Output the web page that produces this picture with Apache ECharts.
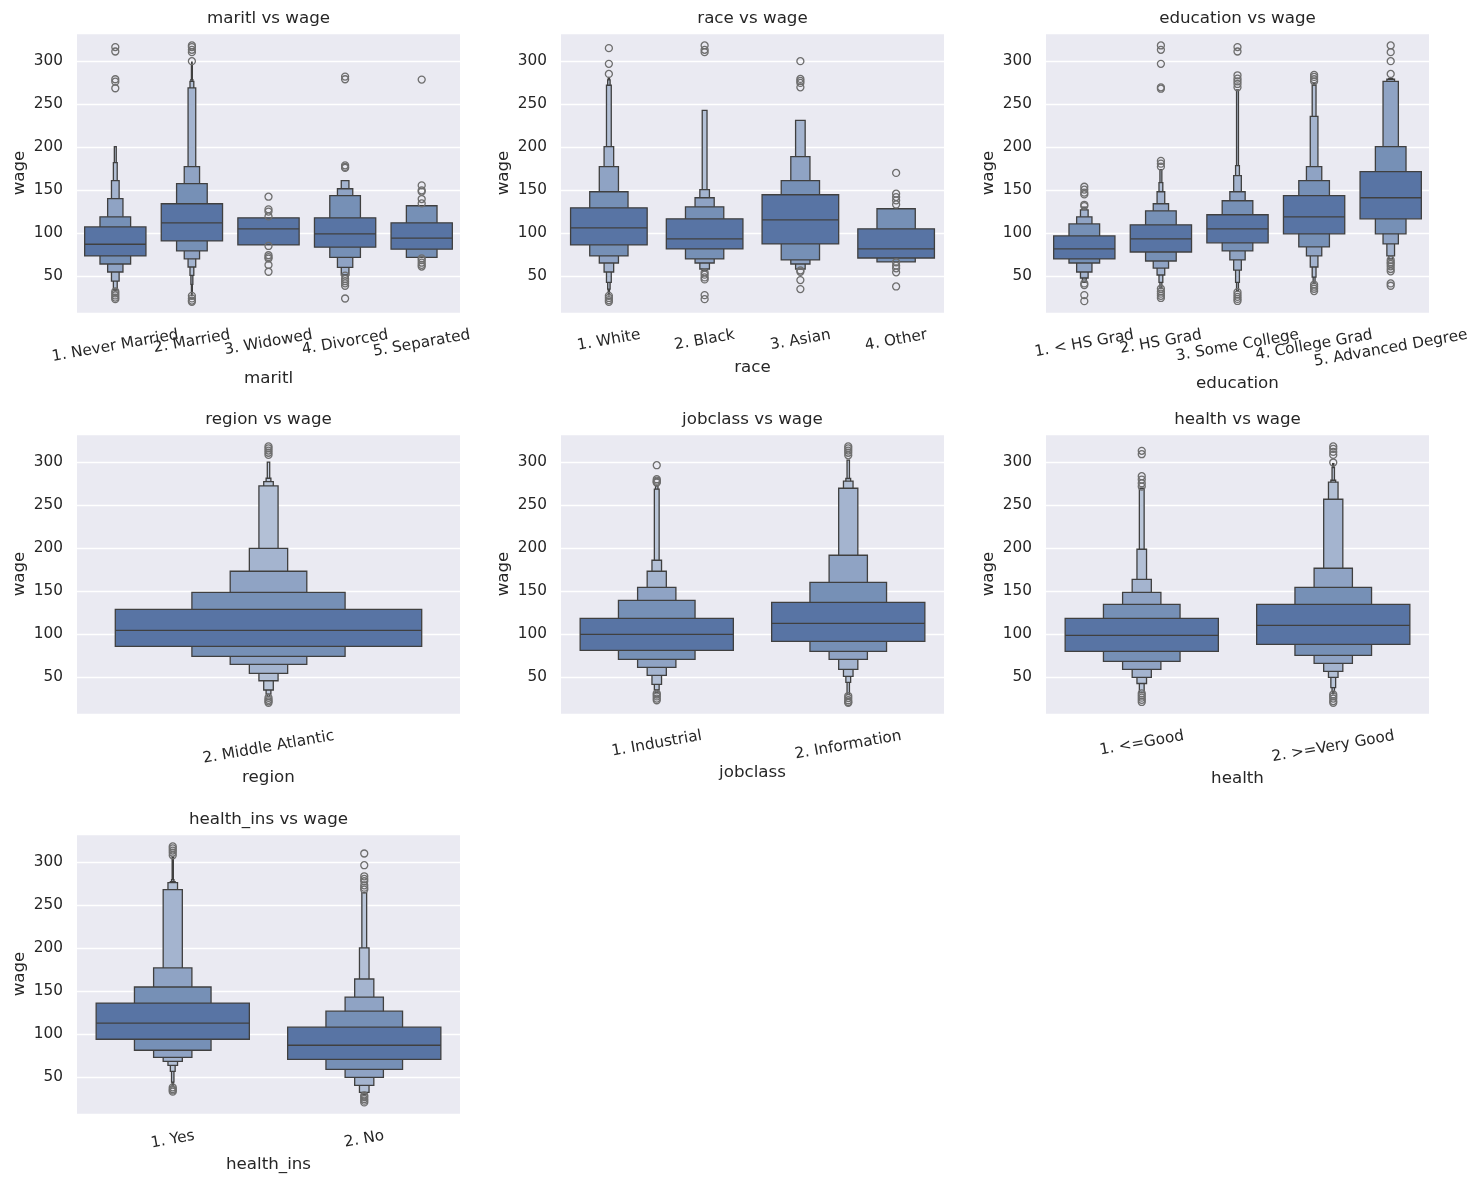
<!DOCTYPE html>
<html><head><meta charset="utf-8">
<script src="https://cdn.jsdelivr.net/npm/echarts@6/dist/echarts.min.js"></script>
<style>html,body{margin:0;padding:0;background:#fff}#chart{width:1479px;height:1184px}</style>
</head><body><div id="chart"></div>
<script>
// ---------------- DATA (letter values) ----------------
// For each category: lower / upper letter values per depth (depth 0 = quartiles), the median, and outliers.
const maritlCats = ['1. Never Married', '2. Married', '3. Widowed', '4. Divorced', '5. Separated'];
const maritlMedian = [87.0, 111.9, 104.9, 99.1, 94.2];
const maritlLow = [
  [73.4, 64.0, 54.7, 44.2, 34.4, 32.9],
  [90.9, 79.2, 70.0, 60.5, 50.8, 40.2, 31.5, 27.6],
  [86.2],
  [83.6, 71.8, 60.1, 51.2],
  [81.3, 71.8]
];
const maritlHigh = [
  [107.2, 118.9, 140.0, 161.0, 182.0, 200.7],
  [134.1, 157.5, 177.3, 268.9, 276.6, 278.6, 296.1, 299.0],
  [117.8],
  [117.8, 143.5, 151.6, 161.0],
  [111.9, 131.8]
];
const maritlOutliers = [
  [316.4, 311.3, 279.0, 276.2, 268.5, 32.0, 29.8, 27.4, 25.0, 23.1],
  [318.3, 316.4, 313.2, 310.5, 300.0, 27.0, 24.0, 21.5, 20.1],
  [142.3, 127.6, 125.0, 119.4, 85.0, 74.2, 72.0, 70.3, 62.9, 55.0],
  [282.1, 279.0, 178.8, 177.0, 175.8, 50.5, 46.5, 44.0, 41.5, 38.7, 23.9],
  [278.6, 155.5, 149.7, 148.2, 139.6, 134.5, 70.5, 68.5, 65.5, 63.0, 61.0]
];

const raceCats = ['1. White', '2. Black', '3. Asian', '4. Other'];
const raceMedian = [106.1, 93.2, 115.4, 81.5];
const raceLow = [
  [86.2, 73.4, 65.2, 54.7, 42.6, 34.8, 30.5, 28.0],
  [81.5, 69.9, 65.2, 58.2, 56.0],
  [87.4, 68.7, 64.0, 58.2],
  [71.0, 66.4]
];
const raceHigh = [
  [129.4, 148.1, 177.3, 200.7, 272.0, 278.2, 279.8, 281.0],
  [116.6, 130.6, 141.1, 150.5, 242.8],
  [144.6, 161.0, 189.0, 231.1],
  [104.9, 128.3]
];
const raceOutliers = [
  [315.2, 296.9, 285.2, 27.0, 24.5, 22.0, 20.1],
  [318.3, 313.2, 310.5, 54.3, 51.6, 48.4, 46.1, 27.8, 23.1],
  [300.0, 279.4, 277.0, 274.7, 269.6, 56.5, 55.0, 45.3, 34.8],
  [170.0, 145.8, 141.9, 138.0, 133.3, 66.0, 62.1, 59.0, 54.3, 37.9]
];

const educationCats = ['1. < HS Grad', '2. HS Grad', '3. Some College', '4. College Grad', '5. Advanced Degree'];
const educationMedian = [81.5, 93.2, 104.9, 118.9, 141.1];
const educationLow = [
  [69.9, 65.2, 54.7, 47.7, 42.6],
  [78.0, 67.5, 59.3, 51.2, 42.6, 36.0],
  [88.6, 79.2, 68.7, 57.0, 42.6, 32.9],
  [99.1, 83.9, 73.4, 60.5, 48.8, 41.4],
  [116.6, 99.1, 87.4, 73.4, 69.9]
];
const educationHigh = [
  [96.7, 110.7, 118.9, 127.1, 130.2],
  [109.6, 125.9, 134.1, 148.1, 158.6, 173.8],
  [121.3, 137.6, 148.1, 166.8, 178.5, 266.5],
  [143.5, 161.0, 177.3, 235.7, 272.0, 274.3],
  [171.5, 200.7, 276.6, 279.0, 280.0]
];
const educationOutliers = [
  [153.9, 150.5, 147.0, 145.0, 132.9, 131.4, 41.4, 39.5, 27.8, 20.8],
  [318.3, 313.2, 296.9, 269.6, 268.0, 184.0, 180.8, 177.3, 35.2, 32.0, 29.5, 27.0, 24.5],
  [316.4, 311.3, 283.6, 279.7, 276.6, 273.5, 269.6, 31.3, 28.4, 25.8, 23.4, 21.0],
  [284.0, 281.7, 279.0, 276.6, 40.0, 37.6, 35.2, 32.5],
  [318.3, 310.5, 300.0, 285.2, 68.7, 66.0, 64.0, 61.3, 58.2, 55.5, 41.4, 38.7]
];

const regionCats = ['2. Middle Atlantic'];
const regionMedian = [104.3];
const regionLow = [[85.7, 74.1, 64.8, 54.3, 45.7, 34.9, 30.2, 27.5]];
const regionHigh = [[128.8, 148.6, 173.1, 199.8, 272.4, 277.4, 281.3, 300.0]];
const regionOutliers = [[318.3, 316.0, 313.5, 311.0, 308.5, 25.9, 23.5, 21.8, 20.1]];

const jobclassCats = ['1. Industrial', '2. Information'];
const jobclassMedian = [99.7, 112.5];
const jobclassLow = [
  [81.1, 70.6, 61.3, 52.0, 41.5, 35.2, 31.8],
  [91.5, 79.9, 70.6, 59.0, 50.8, 43.8, 29.8]
];
const jobclassHigh = [
  [118.3, 139.3, 154.4, 173.1, 185.9, 268.6, 272.4],
  [137.0, 160.2, 191.7, 269.7, 277.9, 281.0, 302.3]
];
const jobclassOutliers = [
  [296.5, 280.2, 278.5, 277.0, 276.3, 31.0, 29.5, 27.5, 25.0, 23.0],
  [318.3, 316.0, 313.5, 311.0, 308.0, 27.9, 25.5, 23.0, 21.0, 20.1]
];

const healthCats = ['1. <=Good', '2. >=Very Good'];
const healthMedian = [98.5, 110.2];
const healthLow = [
  [79.9, 68.2, 59.0, 49.6, 42.5, 31.8],
  [88.0, 75.2, 65.9, 56.6, 49.6, 37.6, 33.0, 30.6]
];
const healthHigh = [
  [118.3, 134.6, 148.6, 163.7, 198.7, 269.7],
  [134.6, 154.4, 176.6, 256.9, 276.7, 279.0, 293.8, 298.4]
];
const healthOutliers = [
  [313.2, 309.3, 283.7, 279.8, 275.5, 271.7, 31.0, 28.5, 26.0, 23.5, 21.0],
  [318.3, 315.5, 312.0, 308.5, 299.6, 29.8, 27.5, 25.0, 22.0, 20.1]
];

const healthInsCats = ['1. Yes', '2. No'];
const healthInsMedian = [112.7, 87.0];
const healthInsLow = [
  [94.0, 81.2, 73.0, 68.3, 63.6, 56.6, 44.0, 39.5],
  [70.6, 59.0, 49.6, 40.3, 32.1, 29.7]
];
const healthInsHigh = [
  [136.1, 154.8, 177.0, 268.1, 276.2, 277.4, 279.8, 306.0],
  [108.0, 126.7, 143.1, 164.1, 200.3, 264.6]
];
const healthInsOutliers = [
  [318.3, 316.0, 313.5, 311.0, 308.0, 38.0, 36.0, 34.5, 33.0],
  [310.1, 296.5, 283.6, 280.5, 277.8, 273.1, 270.4, 268.1, 28.5, 26.8, 24.5, 22.5, 20.5]
];

const yTickValues = [50, 100, 150, 200, 250, 300];
const Y_MIN = 7.0, Y_MAX = 332.8;

// ---------------- STYLE / LAYOUT ----------------
const FONT = '"DejaVu Sans", sans-serif';
const TEXT = '#262626';
const EDGE = '#404040';
const FLIER = '#6e6e6e';
const BG = '#eaeaf2';
const LEVEL_COLORS = ['#5874a4', '#7690b6', '#8fa3c4', '#a4b4cf', '#b3c0d6', '#bac6d9', '#c0cadc', '#c5cedf'];
const TICK_FS = 15.3, LABEL_FS = 16.7;
const GRID_W = 383, GRID_H = 280;
const layout = [
  { left: 77,   top: 33,  xNameGap: 66 },
  { left: 561,  top: 33,  xNameGap: 54.5 },
  { left: 1046, top: 33,  xNameGap: 70.5 },
  { left: 77,   top: 434, xNameGap: 64 },
  { left: 561,  top: 434, xNameGap: 59 },
  { left: 1046, top: 434, xNameGap: 64.5 },
  { left: 77,   top: 834, xNameGap: 50.5 }
];

const panels = [
  { title: 'maritl vs wage', xName: 'maritl', cats: maritlCats, median: maritlMedian, low: maritlLow, high: maritlHigh, out: maritlOutliers },
  { title: 'race vs wage', xName: 'race', cats: raceCats, median: raceMedian, low: raceLow, high: raceHigh, out: raceOutliers },
  { title: 'education vs wage', xName: 'education', cats: educationCats, median: educationMedian, low: educationLow, high: educationHigh, out: educationOutliers },
  { title: 'region vs wage', xName: 'region', cats: regionCats, median: regionMedian, low: regionLow, high: regionHigh, out: regionOutliers },
  { title: 'jobclass vs wage', xName: 'jobclass', cats: jobclassCats, median: jobclassMedian, low: jobclassLow, high: jobclassHigh, out: jobclassOutliers },
  { title: 'health vs wage', xName: 'health', cats: healthCats, median: healthMedian, low: healthLow, high: healthHigh, out: healthOutliers },
  { title: 'health_ins vs wage', xName: 'health_ins', cats: healthInsCats, median: healthInsMedian, low: healthInsLow, high: healthInsHigh, out: healthInsOutliers }
];

// text measurement for matplotlib-like placement of rotated tick labels
const mctx = document.createElement('canvas').getContext('2d');
mctx.font = TICK_FS + 'px ' + FONT;
const TH = 10 * Math.PI / 180;
const MPL_LH = 17.8;
function richFor(cats) {
  const rich = {};
  cats.forEach((c, i) => {
    const w = mctx.measureText(c).width;
    const cy = Math.cos(TH) * (w * Math.sin(TH) + MPL_LH * Math.cos(TH)) / 2;
    const padT = Math.max(0, cy - TICK_FS / 2);
    const r = 2 * cy * Math.tan(TH);
    rich['l' + i] = { fontSize: TICK_FS, fontFamily: FONT, color: TEXT, padding: [padT, r, 0, 0] };
  });
  return rich;
}

function renderBox(params, api) {
  const c = api.value(0), lo = api.value(1), hi = api.value(2), k = api.value(3);
  const pTop = api.coord([c, hi]);
  const pBot = api.coord([c, lo]);
  const band = api.size([1, 0])[0];
  const w = band * 0.8 / Math.pow(2, k);
  return {
    type: 'rect',
    shape: { x: pTop[0] - w / 2, y: pTop[1], width: w, height: pBot[1] - pTop[1] },
    style: { fill: LEVEL_COLORS[Math.min(k, LEVEL_COLORS.length - 1)], stroke: EDGE, lineWidth: 1.3 }
  };
}
function renderMedian(params, api) {
  const c = api.value(0), m = api.value(1);
  const p = api.coord([c, m]);
  const band = api.size([1, 0])[0];
  const w = band * 0.8;
  return {
    type: 'line',
    shape: { x1: p[0] - w / 2, y1: p[1], x2: p[0] + w / 2, y2: p[1] },
    style: { stroke: EDGE, lineWidth: 1.3 }
  };
}

const grids = [], xAxes = [], yAxes = [], series = [], titles = [];
panels.forEach((p, i) => {
  const L = layout[i];
  grids.push({ left: L.left, top: L.top, width: GRID_W, height: GRID_H, show: true,
    backgroundColor: BG, borderWidth: 0, borderColor: 'transparent', outerBoundsMode: 'none' });
  titles.push({ text: p.title, left: L.left + GRID_W / 2, top: L.top - 23, textAlign: 'center', padding: 0,
    textStyle: { fontSize: LABEL_FS, fontWeight: 'normal', color: TEXT, fontFamily: FONT } });
  xAxes.push({
    type: 'category', gridIndex: i, data: p.cats, boundaryGap: true,
    axisLine: { show: false }, axisTick: { show: false }, splitLine: { show: false },
    axisLabel: { interval: 0, rotate: 10, align: 'center', verticalAlign: 'top', margin: 13.2,
      fontSize: TICK_FS, color: TEXT, fontFamily: FONT,
      formatter: (v, idx) => '{l' + idx + '|' + v + '}', rich: richFor(p.cats) },
    name: p.xName, nameLocation: 'middle', nameGap: L.xNameGap,
    nameTextStyle: { fontSize: LABEL_FS, color: TEXT, fontFamily: FONT, verticalAlign: 'middle', align: 'center' }
  });
  yAxes.push({
    type: 'value', gridIndex: i, min: Y_MIN, max: Y_MAX,
    axisLine: { show: false }, axisTick: { show: false },
    splitLine: { show: true, lineStyle: { color: '#ffffff', width: 1.3 } },
    axisLabel: { showMinLabel: false, showMaxLabel: false, margin: 14, fontSize: TICK_FS, color: TEXT, fontFamily: FONT,
      formatter: v => (yTickValues.indexOf(Math.round(v)) >= 0 && Math.abs(v - Math.round(v)) < 1e-6) ? String(Math.round(v)) : '' },
    name: 'wage', nameLocation: 'middle', nameGap: 57,
    nameTextStyle: { fontSize: LABEL_FS, color: TEXT, fontFamily: FONT, verticalAlign: 'middle', align: 'center' }
  });
  const boxData = [];
  p.cats.forEach((c, ci) => {
    for (let k = p.low[ci].length - 1; k >= 0; k--) boxData.push([ci, p.low[ci][k], p.high[ci][k], k]);
  });
  series.push({ type: 'custom', xAxisIndex: i, yAxisIndex: i, data: boxData, renderItem: renderBox,
    encode: { x: 0, y: [1, 2] }, clip: false, silent: true, z: 2 });
  series.push({ type: 'custom', xAxisIndex: i, yAxisIndex: i, data: p.median.map((m, ci) => [ci, m]),
    renderItem: renderMedian, encode: { x: 0, y: 1 }, clip: false, silent: true, z: 3 });
  const outPts = [];
  p.out.forEach((arr, ci) => arr.forEach(v => outPts.push([ci, v])));
  series.push({ type: 'scatter', xAxisIndex: i, yAxisIndex: i, data: outPts, symbol: 'circle', symbolSize: 7,
    itemStyle: { color: 'rgba(0,0,0,0)', borderColor: FLIER, borderWidth: 1.3, opacity: 1 }, silent: true, z: 4 });
});

const chart = echarts.init(document.getElementById('chart'), null, { renderer: 'canvas' });
chart.setOption({
  animation: false,
  backgroundColor: '#ffffff',
  title: titles,
  grid: grids,
  xAxis: xAxes,
  yAxis: yAxes,
  series: series
});
</script></body></html>
